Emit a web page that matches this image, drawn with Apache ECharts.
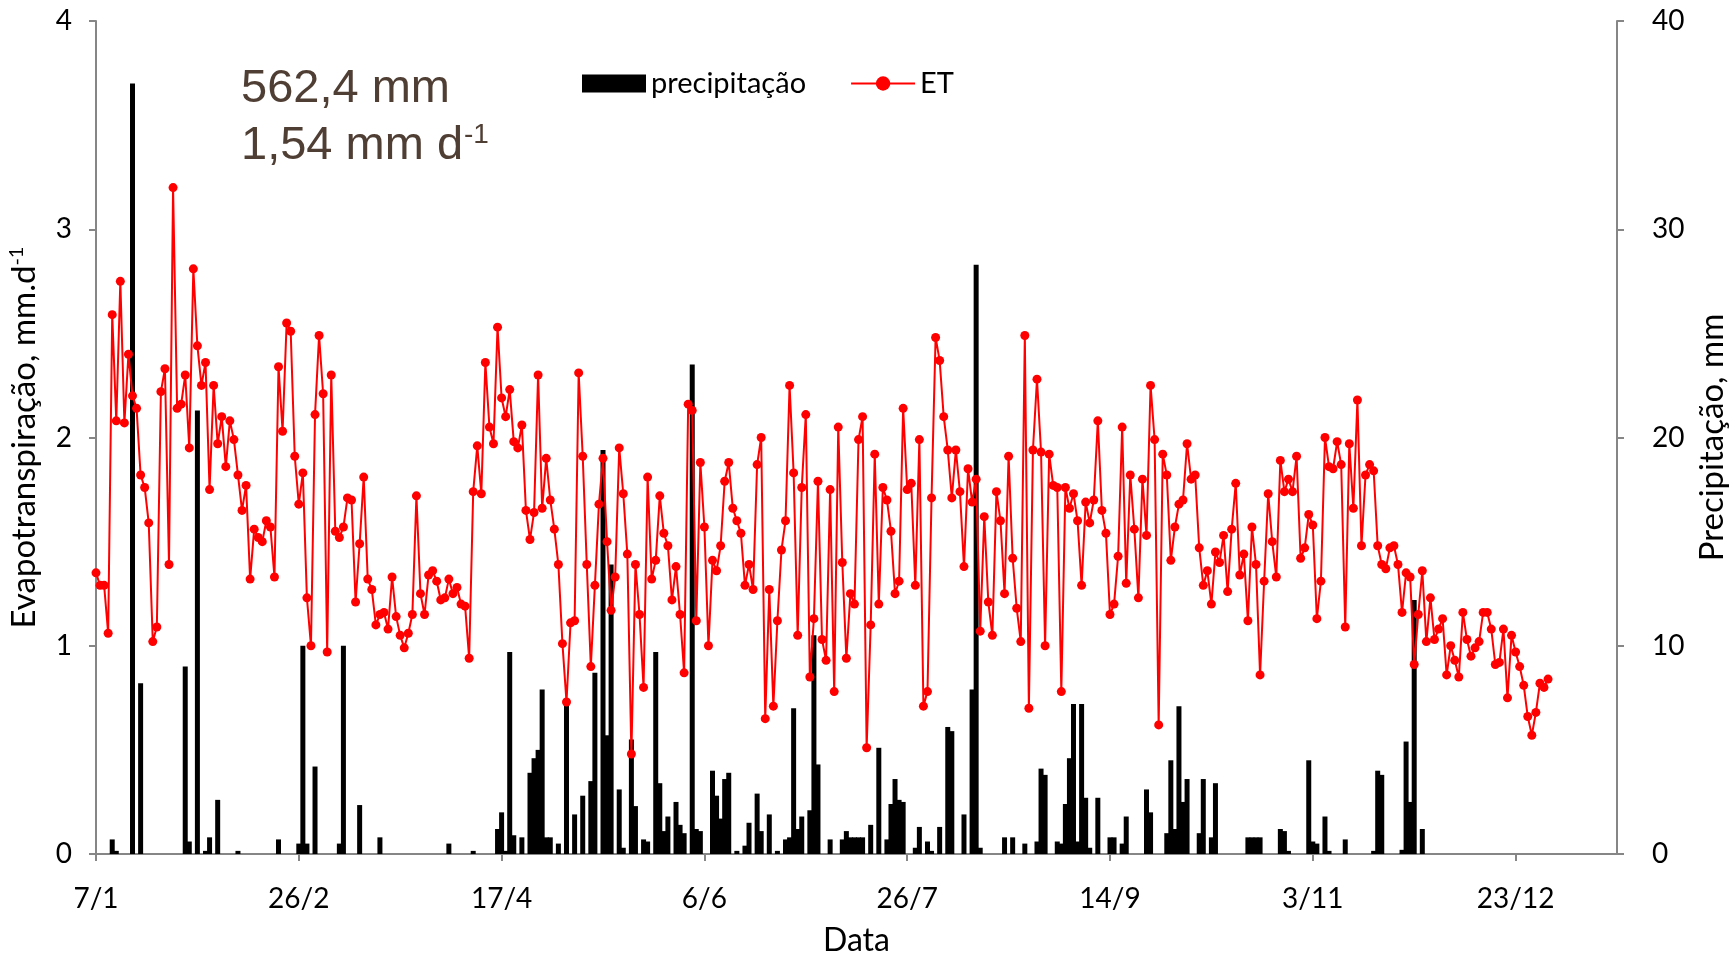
<!DOCTYPE html>
<html><head><meta charset="utf-8">
<script src="https://cdn.jsdelivr.net/npm/echarts@6/dist/echarts.min.js"></script>
<style>html,body{margin:0;padding:0;background:#fff}#c{width:1735px;height:957px}</style>
</head><body><div id="c"></div>
<script>
// x ticks (days counted from 7/1)
const tickDays = [0, 50, 100, 150, 200, 250, 300, 350];
const tickLabels = ['7/1', '26/2', '17/4', '6/6', '26/7', '14/9', '3/11', '23/12'];

// daily evapotranspiration (mm/d), day 0 = 7/1 ... day 358 = 31/12
const et = [
1.35,1.29,1.29,1.06,2.59,2.08,2.75,2.07,2.40,2.20,2.14,1.82,1.76,1.59,1.02,1.09,2.22,2.33,1.39,3.20,
2.14,2.16,2.30,1.95,2.81,2.44,2.25,2.36,1.75,2.25,1.97,2.10,1.86,2.08,1.99,1.82,1.65,1.77,1.32,1.56,
1.52,1.50,1.60,1.57,1.33,2.34,2.03,2.55,2.51,1.91,1.68,1.83,1.23,1.00,2.11,2.49,2.21,0.97,2.30,1.55,
1.52,1.57,1.71,1.70,1.21,1.49,1.81,1.32,1.27,1.10,1.15,1.16,1.08,1.33,1.14,1.05,0.99,1.06,1.15,1.72,
1.25,1.15,1.34,1.36,1.31,1.22,1.23,1.32,1.25,1.28,1.20,1.19,0.94,1.74,1.96,1.73,2.36,2.05,1.97,2.53,
2.19,2.10,2.23,1.98,1.95,2.06,1.65,1.51,1.64,2.30,1.66,1.90,1.70,1.56,1.39,1.01,0.73,1.11,1.12,2.31,
1.91,1.39,0.90,1.29,1.68,1.90,1.50,1.17,1.33,1.95,1.73,1.44,0.48,1.39,1.15,0.80,1.81,1.32,1.41,1.72,
1.54,1.48,1.22,1.38,1.15,0.87,2.16,2.13,1.12,1.88,1.57,1.00,1.41,1.36,1.48,1.79,1.88,1.66,1.60,1.54,
1.29,1.39,1.27,1.87,2.00,0.65,1.27,0.71,1.12,1.46,1.60,2.25,1.83,1.05,1.76,2.11,0.85,1.13,1.79,1.03,
0.93,1.75,0.78,2.05,1.40,0.94,1.25,1.20,1.99,2.10,0.51,1.10,1.92,1.20,1.76,1.70,1.55,1.25,1.31,2.14,
1.75,1.78,1.29,1.99,0.71,0.78,1.71,2.48,2.37,2.10,1.94,1.71,1.94,1.74,1.38,1.85,1.69,1.80,1.07,1.62,
1.21,1.05,1.74,1.60,1.25,1.91,1.42,1.18,1.02,2.49,0.70,1.94,2.28,1.93,1.00,1.92,1.77,1.76,0.78,1.76,
1.66,1.73,1.60,1.29,1.69,1.59,1.70,2.08,1.65,1.54,1.15,1.20,1.43,2.05,1.30,1.82,1.56,1.23,1.80,1.53,
2.25,1.99,0.62,1.92,1.82,1.41,1.57,1.68,1.70,1.97,1.80,1.82,1.47,1.29,1.36,1.20,1.45,1.40,1.53,1.26,
1.56,1.78,1.34,1.44,1.12,1.57,1.39,0.86,1.31,1.73,1.50,1.33,1.89,1.74,1.80,1.74,1.91,1.42,1.47,1.63,
1.58,1.13,1.31,2.00,1.86,1.85,1.98,1.87,1.09,1.97,1.66,2.18,1.48,1.82,1.87,1.84,1.48,1.39,1.37,1.47,
1.48,1.39,1.16,1.35,1.33,0.91,1.15,1.36,1.02,1.23,1.03,1.08,1.13,0.86,1.00,0.93,0.85,1.16,1.03,0.95,
0.99,1.02,1.16,1.16,1.08,0.91,0.92,1.08,0.75,1.05,0.97,0.90,0.81,0.66,0.57,0.68,0.82,0.80,0.84
];

// daily precipitation (mm): days with rain and their amounts
const precipDay = [4,5,9,11,22,23,25,27,28,30,35,45,50,51,52,54,60,61,65,70,87,93,99,100,101,102,103,105,
107,108,109,110,111,112,114,116,118,120,122,123,125,126,127,129,130,132,133,135,136,138,139,140,141,
143,144,145,147,148,149,152,153,154,155,156,158,160,161,163,164,166,168,170,171,172,173,174,176,177,178,
181,184,185,186,187,188,189,191,193,195,196,197,198,199,202,203,205,206,208,210,211,214,
216,217,218,224,226,229,232,233,234,237,238,239,240,241,242,243,244,245,247,250,
251,253,254,259,260,264,265,266,267,268,269,272,273,275,276,284,285,286,
287,292,293,294,299,300,301,303,304,308,315,316,317,322,323,324,325,327];
const precipMm = [0.7,0.15,37.0,8.2,9.0,0.6,21.3,0.15,0.8,2.6,0.15,0.7,0.5,10.0,0.5,4.2,0.5,10.0,2.35,0.8,0.5,0.15,1.2,2.0,0.15,9.7,0.9,0.8,
3.9,4.6,5.0,7.9,0.8,0.8,0.5,7.3,1.9,2.8,3.5,8.7,19.4,5.7,13.9,3.1,0.3,5.5,2.3,0.7,0.6,9.7,3.4,1.1,1.8,
2.5,1.4,1.0,23.5,1.2,1.1,4.0,2.8,1.7,3.6,3.9,0.15,0.4,1.5,2.9,1.1,1.9,0.15,0.7,0.8,7.0,1.2,1.8,2.1,10.5,4.3,
0.7,0.7,1.1,0.8,0.8,0.8,0.8,1.4,5.1,0.7,2.4,3.6,2.6,2.5,0.3,1.3,0.6,0.15,1.3,6.1,5.9,1.9,
7.9,28.3,0.3,0.8,0.8,0.5,0.6,4.1,3.8,0.6,0.5,2.4,4.6,7.2,0.6,7.2,2.7,0.3,2.7,0.8,
0.8,0.5,1.8,3.1,2.0,1.0,4.5,1.2,7.1,2.5,3.6,1.0,3.6,0.8,3.4,0.8,0.8,0.8,
0.8,1.2,1.1,0.15,4.5,0.6,0.5,1.8,0.15,0.7,0.15,4.0,3.8,0.2,5.4,2.5,12.2,1.2];

const axisGrey = '#868686';
const font = 'Lato';
const chart = echarts.init(document.getElementById('c'), null, {renderer: 'canvas'});
chart.setOption({
  animation: false,
  backgroundColor: '#fff',
  textStyle: {fontFamily: font},
  grid: {left: 96, right: 118, top: 21, bottom: 103, containLabel: false, outerBoundsMode: 'none'},
  legend: {
    left: 577, top: 64, itemWidth: 64, itemHeight: 18, itemGap: 44,
    textStyle: {fontFamily: font, fontSize: 29, color: '#000'},
    data: [{name: 'precipitação', icon: 'rect'}, {name: 'ET'}]
  },
  graphic: [
    {type: 'text', left: 241, top: 66, style: {text: '562,4 mm', font: '47px "Liberation Sans"', fill: '#4f3e33'}},
    {type: 'text', left: 241, top: 123, style: {text: '1,54 mm d', font: '47px "Liberation Sans"', fill: '#4f3e33'}},
    {type: 'text', left: 464, top: 121, style: {text: '-1', font: '28px "Liberation Sans"', fill: '#4f3e33'}}
  ],
  xAxis: {
    type: 'value', min: 0, max: 375,
    name: 'Data', nameLocation: 'middle', nameGap: 71,
    nameTextStyle: {fontFamily: font, fontSize: 32, color: '#000'},
    axisLine: {lineStyle: {color: axisGrey, width: 2}},
    axisTick: {show: true, inside: false, length: 7, customValues: tickDays, lineStyle: {color: axisGrey, width: 2}},
    axisLabel: {customValues: tickDays, margin: 31, fontSize: 28, color: '#000', fontFamily: font,
      formatter: v => tickLabels[tickDays.indexOf(v)] || ''},
    splitLine: {show: false}
  },
  yAxis: [
    {
      type: 'value', min: 0, max: 4, interval: 1, position: 'left',
      name: 'Evapotranspiração, mm.d{s|-1}', nameLocation: 'middle', nameRotate: 90, nameGap: 55,
      nameTextStyle: {fontFamily: font, fontSize: 33, color: '#000', rich: {s: {fontFamily: font, fontSize: 20, verticalAlign: 'top', padding: [0, 0, 14, 0]}}},
      axisLine: {show: true, lineStyle: {color: axisGrey, width: 2}},
      axisTick: {show: true, inside: false, length: 7, lineStyle: {color: axisGrey, width: 2}},
      axisLabel: {margin: 24, fontSize: 28, color: '#000', fontFamily: font},
      splitLine: {show: false}
    },
    {
      type: 'value', min: 0, max: 40, interval: 10, position: 'right',
      name: 'Precipitação, mm', nameLocation: 'middle', nameRotate: 90, nameGap: 76,
      nameTextStyle: {fontFamily: font, fontSize: 33, color: '#000'},
      axisLine: {show: true, lineStyle: {color: axisGrey, width: 2}},
      axisTick: {show: true, inside: false, length: 7, lineStyle: {color: axisGrey, width: 2}},
      axisLabel: {margin: 35, fontSize: 28, color: '#000', fontFamily: font},
      splitLine: {show: false}
    }
  ],
  series: [
    {
      name: 'precipitação', type: 'bar', yAxisIndex: 1, barWidth: 5,
      itemStyle: {color: '#000'},
      data: precipDay.map((d, i) => [d, precipMm[i]])
    },
    {
      name: 'ET', type: 'line', yAxisIndex: 0,
      symbol: 'circle', symbolSize: 9, showAllSymbol: true,
      lineStyle: {color: '#ff0000', width: 2},
      itemStyle: {color: '#ff0000'},
      data: et.map((v, i) => [i, v])
    }
  ]
});
</script>
</body></html>
